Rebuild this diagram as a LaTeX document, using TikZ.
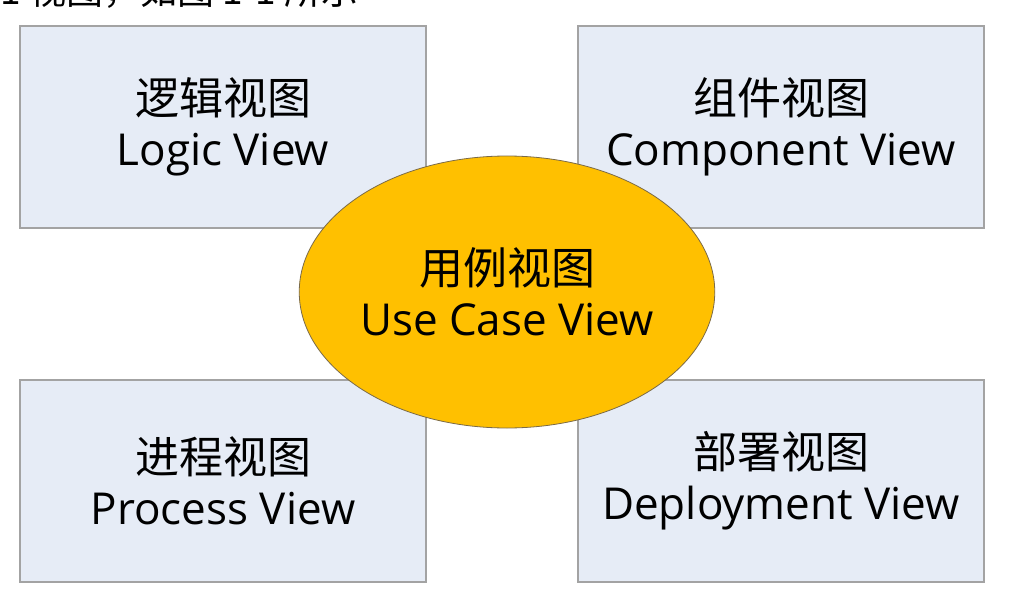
\documentclass[tikz,border=0pt]{standalone}
\usepackage{fontspec}
\setmainfont{Open Sans}
\newfontfamily\cjk{Noto Sans CJK SC}
\usetikzlibrary{shapes.geometric}
\definecolor{boxfill}{HTML}{E6ECF6}
\definecolor{boxline}{HTML}{A3A3A3}
\definecolor{ucfill}{HTML}{FFC000}
\definecolor{ucline}{HTML}{7A6A48}
\tikzset{
  viewbox/.style={draw=boxline, fill=boxfill, line width=1.6pt, minimum width=406pt, minimum height=202pt, inner sep=0pt, align=center, font=\fontsize{44}{51}\selectfont},
  usecase/.style={ellipse, draw=ucline, fill=ucfill, line width=0.8pt, minimum width=402pt, minimum height=272pt, inner sep=0pt, align=center, font=\fontsize{44}{51}\selectfont}
}
\begin{document}
\begin{tikzpicture}[x=1pt,y=-1pt]
\useasboundingbox (0,0) rectangle (1024,596);
\clip (0,0) rectangle (1024,596);
\fill[white] (0,0) rectangle (1024,596);
\node[anchor=base west, inner sep=0pt, font=\cjk\fontsize{37}{40}\selectfont] (cap) at (0,5) {1 视图，如图 1-1 所示};
\node[viewbox] (logic) at (223,127) {{\cjk 逻辑视图}\\Logic View};
\node[viewbox] (comp) at (781,127) {{\cjk 组件视图}\\Component View};
\node[viewbox] (proc) at (223,481) {{\cjk 进程视图}\\Process View};
\node[viewbox] (depl) at (781,481) {{\cjk 部署视图}\\Deployment View};
\node[usecase] (uc) at (507,292) {{\cjk 用例视图}\\Use Case View};
\end{tikzpicture}
\end{document}
